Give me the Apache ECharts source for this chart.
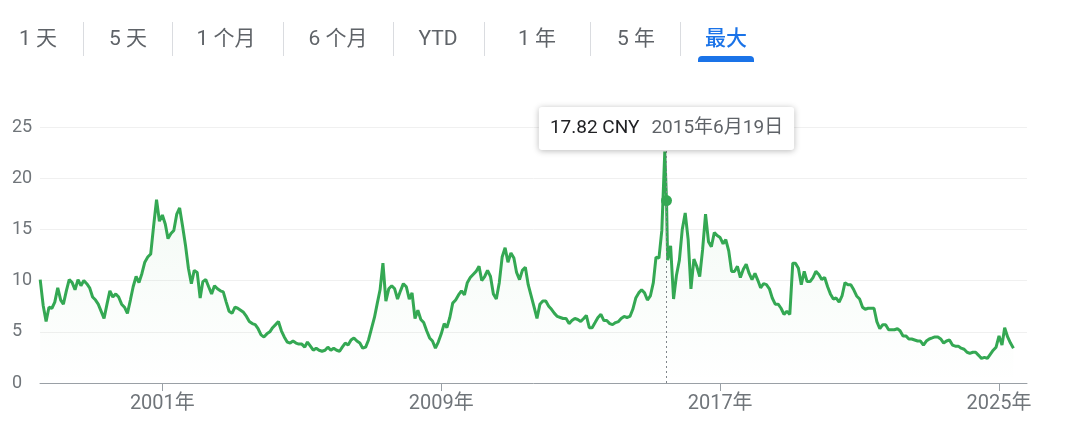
<!DOCTYPE html>
<html>
<head>
<meta charset="utf-8">
<script src="https://cdn.jsdelivr.net/npm/echarts@6/dist/echarts.min.js"></script>
<style>
  html, body { margin: 0; padding: 0; background: #ffffff; }
  #chart { width: 1080px; height: 433px; }
</style>
</head>
<body>
<div id="chart"></div>
<script>
// ---- data (monthly closing prices, starting July 1997) ----
const startYear = 1997;
const startMonth = 7;
const prices = [
  10.1, 7.6, 6.0, 7.4, 7.3, 7.9, 9.3, 8.1, 7.7, 9.0, 10.1, 9.8,
  9.1, 10.1, 9.5, 10.0, 9.7, 9.3, 8.4, 8.1, 7.7, 7.0, 6.3, 7.7,
  9.0, 8.4, 8.7, 8.4, 7.7, 7.4, 6.8, 8.1, 9.4, 10.4, 9.8, 10.7,
  11.8, 12.3, 12.6, 15.3, 17.9, 15.8, 16.4, 15.5, 14.1, 14.6, 14.9, 16.5,
  17.1, 15.3, 13.4, 11.2, 9.7, 11.0, 10.8, 8.3, 9.9, 10.1, 9.4, 8.7,
  9.5, 9.2, 9.0, 8.9, 7.9, 7.0, 6.8, 7.4, 7.3, 7.1, 6.9, 6.5,
  6.0, 5.8, 5.7, 5.3, 4.7, 4.5, 4.8, 5.0, 5.4, 5.7, 6.0, 5.1,
  4.5, 4.0, 3.9, 4.1, 3.9, 3.8, 3.8, 3.5, 4.0, 3.6, 3.2, 3.4,
  3.2, 3.1, 3.2, 3.5, 3.2, 3.4, 3.2, 3.1, 3.5, 3.9, 3.7, 4.2,
  4.4, 4.1, 3.9, 3.4, 3.5, 4.2, 5.3, 6.4, 7.7, 9.1, 11.7, 8.0,
  9.2, 9.5, 9.2, 8.2, 9.0, 9.7, 9.4, 8.2, 8.8, 6.3, 7.1, 6.2,
  5.9, 5.1, 4.4, 4.1, 3.4, 4.0, 4.8, 5.8, 5.4, 6.4, 7.8, 8.1,
  8.6, 9.0, 8.6, 9.8, 10.3, 10.6, 10.9, 11.4, 10.0, 10.4, 11.0, 10.4,
  8.7, 8.2, 9.8, 12.3, 13.2, 11.8, 12.7, 12.2, 10.8, 10.1, 11.0, 11.3,
  9.6, 8.5, 7.4, 6.3, 7.7, 8.0, 8.0, 7.5, 7.2, 6.8, 6.5, 6.4,
  6.3, 6.3, 5.8, 6.1, 6.3, 6.2, 6.0, 6.3, 6.6, 5.4, 5.4, 5.9,
  6.4, 6.7, 6.1, 6.1, 5.8, 5.7, 5.9, 6.0, 6.3, 6.5, 6.4, 6.5,
  7.2, 8.3, 8.8, 9.1, 8.8, 8.1, 8.5, 9.8, 12.3, 12.2, 14.9, 22.6,
  12.0, 13.4, 8.2, 10.5, 12.0, 15.0, 16.6, 14.0, 9.2, 12.1, 11.4, 10.4,
  13.0, 16.5, 13.8, 13.3, 14.7, 14.4, 14.2, 13.6, 14.0, 12.9, 10.9, 10.9,
  11.4, 10.3, 11.1, 11.6, 10.7, 10.1, 10.7, 10.0, 9.3, 9.7, 9.6, 9.2,
  8.3, 7.7, 7.7, 7.3, 6.7, 7.0, 6.7, 11.7, 11.7, 11.2, 9.6, 10.9,
  9.9, 9.9, 10.3, 10.9, 10.6, 10.1, 10.3, 9.4, 8.7, 8.2, 8.3, 7.9,
  8.5, 9.8, 9.6, 9.6, 9.1, 8.5, 8.2, 7.4, 7.2, 7.3, 7.3, 7.3,
  6.0, 5.3, 5.7, 5.7, 5.2, 5.2, 5.2, 5.3, 5.1, 4.6, 4.6, 4.3,
  4.3, 4.2, 4.1, 4.1, 3.7, 4.1, 4.3, 4.4, 4.5, 4.5, 4.3, 3.9,
  4.1, 4.2, 3.7, 3.6, 3.6, 3.4, 3.3, 3.0, 2.9, 3.0, 3.0, 2.7,
  2.4, 2.5, 2.4, 2.8, 3.2, 3.5, 4.6, 3.7, 5.4, 4.5, 3.9, 3.4
];
const highlightDate = [2015, 6, 19];
const highlightPrice = 17.82;
const currency = 'CNY';
const yTicks = [0, 5, 10, 15, 20, 25];
const xLabelYears = [2001, 2009, 2017, 2025];
const tabs = ['1 天', '5 天', '1 个月', '6 个月', 'YTD', '1 年', '5 年', '最大'];
const activeTab = '最大';

// ---- styling / layout constants ----
const GREEN = '#34a853';
const GRAY = '#70757a';
const FONT = 'Roboto, "Noto Sans CJK SC", "Noto Sans", sans-serif';
const tabCenters = [38, 128, 226, 338, 438, 537, 636, 726];
const tabSeparators = [83, 172, 283, 393, 484, 590, 680];

const toTs = (y, m, d) => new Date(y, m - 1, d).getTime();

const lineData = prices.map((v, i) => {
  const mIdx = startMonth - 1 + i;
  const y = startYear + Math.floor(mIdx / 12);
  const mo = (mIdx % 12) + 1;
  return [toTs(y, mo, 1), v];
});
const hTs = toTs(highlightDate[0], highlightDate[1], highlightDate[2]);
lineData.push([hTs, highlightPrice]);
lineData.sort((a, b) => a[0] - b[0]);

const yearTicks = xLabelYears.map(y => toTs(y, 1, 1));

const chart = echarts.init(document.getElementById('chart'), null, { renderer: 'canvas' });

const tabGraphics = [];
tabs.forEach((t, i) => {
  const active = t === activeTab;
  tabGraphics.push({
    type: 'text', x: tabCenters[i], y: 40, z: 100,
    style: {
      text: t, align: 'center', verticalAlign: 'middle',
      font: (active ? '500 ' : '400 ') + '21px ' + FONT,
      fill: active ? '#1a73e8' : '#5f6368'
    }
  });
});
tabSeparators.forEach(x => {
  tabGraphics.push({
    type: 'line', z: 100,
    shape: { x1: x + 0.5, y1: 22, x2: x + 0.5, y2: 56 },
    style: { stroke: '#dadce0', lineWidth: 1 }
  });
});
const activeIdx = tabs.indexOf(activeTab);
tabGraphics.push({
  type: 'rect', z: 100,
  shape: { x: tabCenters[activeIdx] - 28, y: 56, width: 56, height: 6, r: [4, 4, 0, 0] },
  style: { fill: '#1a73e8' }
});

chart.setOption({
  animation: false,
  backgroundColor: '#ffffff',
  grid: { left: 40, right: 53, top: 127, bottom: 50, containLabel: false },
  xAxis: {
    type: 'value',
    min: toTs(1997, 6, 29),
    max: toTs(2025, 10, 21),
    axisLine: { show: true, lineStyle: { color: '#9aa0a6', width: 1 } },
    axisTick: { show: true, customValues: yearTicks, length: 8, lineStyle: { color: '#9aa0a6' } },
    axisLabel: {
      customValues: yearTicks,
      formatter: v => new Date(v).getFullYear() + '年',
      color: GRAY, fontSize: 20, fontFamily: FONT, margin: 11
    },
    splitLine: { show: false }
  },
  yAxis: {
    type: 'value', min: yTicks[0], max: yTicks[yTicks.length - 1], interval: 5,
    axisLine: { show: false },
    axisTick: { show: false },
    axisLabel: { color: GRAY, fontSize: 18, fontFamily: FONT, align: 'left', margin: 28 },
    splitLine: { show: true, lineStyle: { color: '#f0f0f0', width: 1 } }
  },
  series: [
    {
      type: 'line',
      data: lineData,
      showSymbol: false,
      lineStyle: { color: GREEN, width: 3 },
      itemStyle: { color: GREEN },
      areaStyle: {
        color: new echarts.graphic.LinearGradient(0, 0, 0, 1, [
          { offset: 0, color: 'rgba(52,168,83,0.10)' },
          { offset: 1, color: 'rgba(52,168,83,0)' }
        ])
      },
      markLine: {
        silent: true, symbol: ['none', 'none'],
        label: { show: false },
        lineStyle: { color: '#80868b', type: [2, 3], width: 1 },
        data: [{ xAxis: hTs }]
      },
      z: 3
    },
    {
      type: 'scatter',
      data: [[hTs, highlightPrice]],
      symbolSize: 11,
      itemStyle: { color: GREEN, opacity: 1 },
      z: 5
    }
  ],
  graphic: tabGraphics
});

const p = chart.convertToPixel({ gridIndex: 0 }, [hTs, highlightPrice]);
const dateLabel = highlightDate[0] + '年' + highlightDate[1] + '月' + highlightDate[2] + '日';
chart.setOption({
  graphic: tabGraphics.concat([{
    type: 'text', x: p[0], y: 107, z: 200,
    style: {
      text: '{a|' + highlightPrice.toFixed(2) + ' ' + currency + '}{b|' + dateLabel + '}',
      align: 'center', verticalAlign: 'top',
      backgroundColor: '#ffffff',
      padding: [10, 11, 10, 11],
      borderRadius: 3,
      shadowBlur: 6, shadowColor: 'rgba(0,0,0,0.28)', shadowOffsetY: 1,
      rich: {
        a: { font: '400 19px ' + FONT, fill: '#202124', lineHeight: 23, padding: [0, 12, 0, 0] },
        b: { font: '400 19px ' + FONT, fill: '#5f6368', lineHeight: 23 }
      }
    }
  }])
});
</script>
</body>
</html>
